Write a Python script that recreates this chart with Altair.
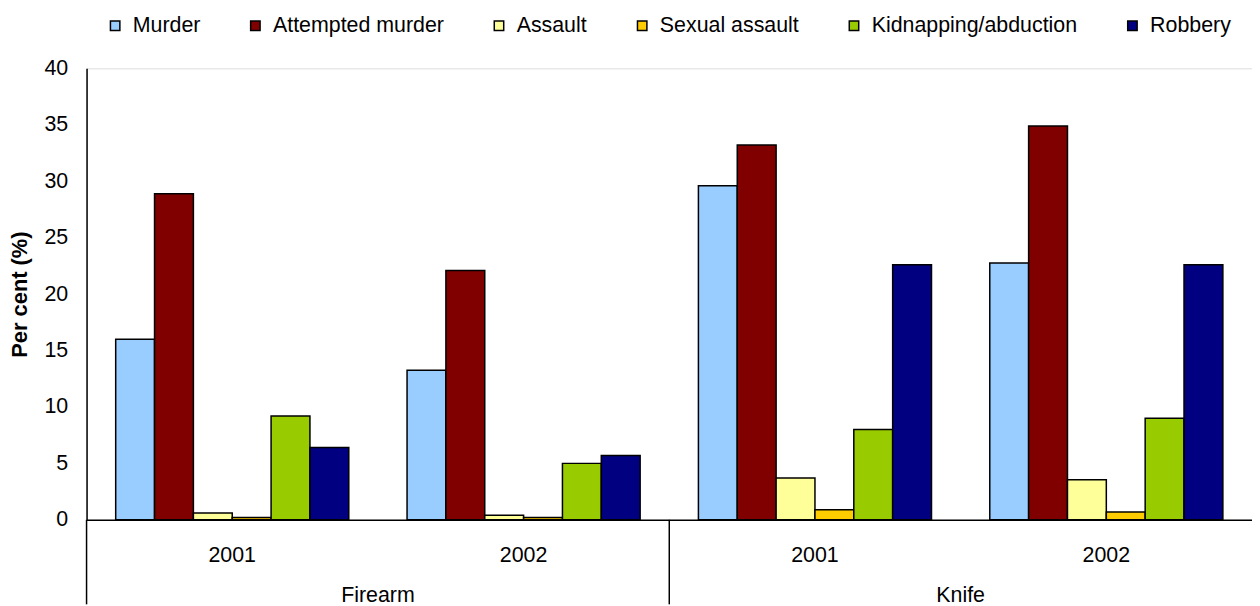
import altair as alt
import pandas as pd

crimes = ["Murder", "Attempted murder", "Assault", "Sexual assault", "Kidnapping/abduction", "Robbery"]
colors = ["#99CCFF", "#800000", "#FFFF99", "#FFCC00", "#99CC00", "#000080"]
weapons = ["Firearm", "Firearm", "Knife", "Knife"]
years = ["2001", "2002", "2001", "2002"]

murder = [16.0, 13.25, 29.6, 22.75]
attempted_murder = [28.9, 22.1, 33.2, 34.9]
assault = [0.6, 0.4, 3.7, 3.55]
sexual_assault = [0.2, 0.2, 0.9, 0.7]
kidnapping = [9.2, 5.0, 8.0, 9.0]
robbery = [6.4, 5.7, 22.6, 22.6]

series = [murder, attempted_murder, assault, sexual_assault, kidnapping, robbery]

rows = []
for crime, vals in zip(crimes, series):
    for w, y, v in zip(weapons, years, vals):
        rows.append({"group": f"{w} {y}", "weapon": w, "year": y, "crime": crime, "value": v})
df = pd.DataFrame(rows)
groups = [f"{w} {y}" for w, y in zip(weapons, years)]
weapon_names = ["Firearm", "Knife"]
wdf = pd.DataFrame({"weapon": weapon_names})

W, H = 1172, 454
FONT = "Liberation Sans"
FS = 21.5

bars = alt.Chart(df).mark_bar(stroke="black", strokeWidth=1.5).encode(
    x=alt.X("group:N", sort=groups,
            scale=alt.Scale(paddingInner=0.2, paddingOuter=0.1),
            axis=alt.Axis(title=None, labelExpr="split(datum.label, ' ')[1]", ticks=False,
                          labelAngle=0, labelFontSize=FS, labelPadding=25,
                          labelColor="black", domainColor="black", domainWidth=1.5,
                          labelFont=FONT)),
    xOffset=alt.XOffset("crime:N", sort=crimes),
    y=alt.Y("value:Q", scale=alt.Scale(domain=[0, 40]),
            axis=alt.Axis(title="Per cent (%)", values=list(range(0, 45, 5)), grid=False,
                          ticks=False, labelFontSize=FS, labelPadding=19, labelColor="black",
                          labelFont=FONT, titleFont=FONT, titleFontSize=22, titleFontWeight="bold",
                          titleColor="black", titlePadding=12, domainColor="black",
                          domainWidth=1.5)),
    color=alt.Color("crime:N", sort=crimes,
                    scale=alt.Scale(domain=crimes, range=colors),
                    legend=alt.Legend(title=None, orient="none", direction="horizontal",
                                      legendX=18, legendY=-54, symbolType="square",
                                      symbolSize=90, symbolStrokeColor="black",
                                      symbolStrokeWidth=1.5, labelFontSize=FS, labelFont=FONT,
                                      labelColor="black", columnPadding=44, labelOffset=7,
                                      labelLimit=0)),
)

wx = alt.X("weapon:N", sort=weapon_names, scale=alt.Scale(paddingInner=0, paddingOuter=0), axis=None)

labels = alt.Chart(wdf).mark_text(fontSize=FS, font=FONT, color="black", baseline="middle").encode(
    x=wx, y=alt.value(H + 77), text="weapon:N")

rules = alt.Chart(wdf).mark_rule(color="black", strokeWidth=1.5).encode(
    x=alt.X("weapon:N", sort=weapon_names, bandPosition=0,
            scale=alt.Scale(paddingInner=0, paddingOuter=0), axis=None),
    y=alt.value(H), y2=alt.value(H + 85))

chart = alt.layer(bars, labels, rules).resolve_scale(x="independent").properties(
    width=W, height=H, padding={"left": 1, "top": 5, "right": 0, "bottom": 0}
).configure_view(stroke=None).configure(background="white")

chart.save("out.html", embed_options={"renderer": "svg", "actions": False})
